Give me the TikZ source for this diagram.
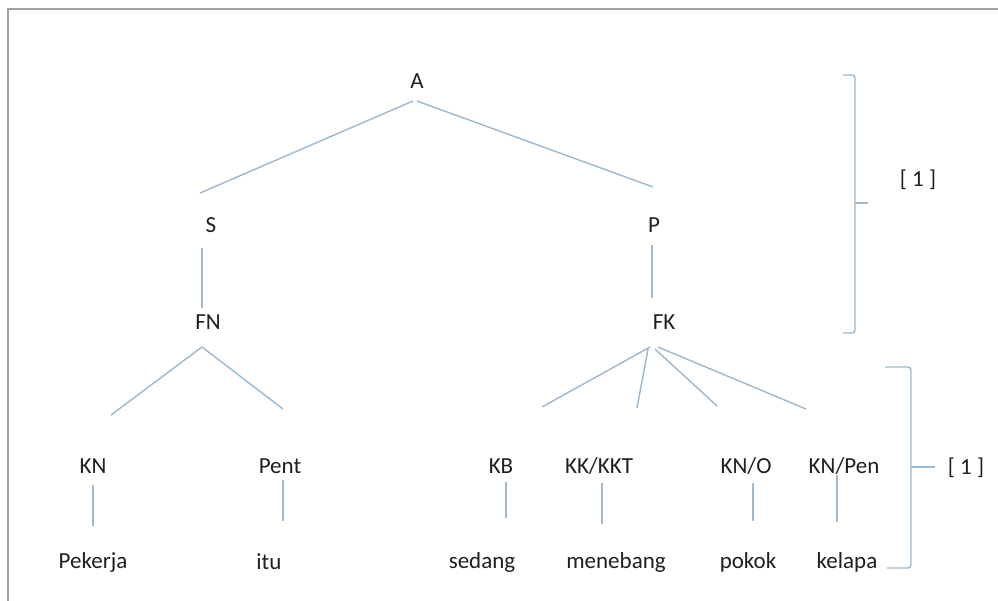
\documentclass[tikz,border=0pt]{standalone}
\usepackage{fontspec}
\setmainfont{Carlito}
\begin{document}
\begin{tikzpicture}[x=1pt,y=-1pt,
  lbl/.style={inner sep=0pt, text=black!88, font=\fontsize{23}{27}\selectfont},
  conn/.style={draw={rgb,255:red,158;green,184;blue,206}, line width=1.4pt},
  brace/.style={draw={rgb,255:red,158;green,184;blue,206}, line width=1.4pt, rounded corners=3pt},
  frame/.style={draw={rgb,255:red,160;green,160;blue,160}, line width=2.2pt}]
\useasboundingbox (0,0) rectangle (998,600);
\fill[white] (0,0) rectangle (998,600);
\draw[frame] (8,601) -- (8,9) -- (999,9);

% nodes
\node[lbl] (A) at (417,81) {A};
\node[lbl] (S) at (211,225) {S};
\node[lbl] (P) at (654,225) {P};
\node[lbl] (FN) at (208,322) {FN};
\node[lbl] (FK) at (664,322) {FK};
\node[lbl] (KN) at (93,466) {KN};
\node[lbl] (Pent) at (280,466) {Pent};
\node[lbl] (KB) at (501,466) {KB};
\node[lbl] (KK) at (599,466) {KK/KKT};
\node[lbl] (KNO) at (746,466) {KN/O};
\node[lbl] (KNP) at (844,466) {KN/Pen};
\node[lbl] (w1) at (93,562) {Pekerja};
\node[lbl] (w2) at (269,562) {itu};
\node[lbl] (w3) at (482,562) {sedang};
\node[lbl] (w4) at (616,562) {menebang};
\node[lbl] (w5) at (748,562) {pokok};
\node[lbl] (w6) at (847,562) {kelapa};
\node[lbl] (L1) at (918,180) {[ 1 ]};
\node[lbl] (L2) at (966,468) {[ 1 ]};

% connector end points
\coordinate (aL) at (413,101);
\coordinate (aR) at (417,101);
\coordinate (sT) at (200,193);
\coordinate (pT) at (653,187);
\coordinate (sB) at (202,248);
\coordinate (fnT) at (202,308);
\coordinate (pB) at (652,245);
\coordinate (fkT) at (652,298);
\coordinate (fnB) at (202,347);
\coordinate (knT) at (111,415);
\coordinate (pentT) at (283,409);
\coordinate (fkB1) at (650,347);
\coordinate (fkB2) at (648,349);
\coordinate (fkB3) at (655,349);
\coordinate (fkB4) at (658,347);
\coordinate (kbT) at (542,407);
\coordinate (kkT) at (637,408);
\coordinate (knoT) at (717,406);
\coordinate (knpT) at (806,409);

\draw[conn] (aL) -- (sT);
\draw[conn] (aR) -- (pT);
\draw[conn] (sB) -- (fnT);
\draw[conn] (pB) -- (fkT);
\draw[conn] (fnB) -- (knT);
\draw[conn] (fnB) -- (pentT);
\draw[conn] (fkB1) -- (kbT);
\draw[conn] (fkB2) -- (kkT);
\draw[conn] (fkB3) -- (knoT);
\draw[conn] (fkB4) -- (knpT);

\draw[conn] (KN.south |- 0,485) -- (KN.south |- 0,526);
\draw[conn] (283,480) -- (283,521);
\draw[conn] (506,482) -- (506,518);
\draw[conn] (602,483) -- (602,524);
\draw[conn] (753,483) -- (753,521);
\draw[conn] (837,475) -- (837,522);

% braces
\draw[brace] (843,75) -- (855,75) -- (855,203);
\draw[brace] (855,203) -- (855,333) -- (843,333);
\draw[conn] (855,203) -- (868,203);
\draw[brace] (885,367) -- (911,367) -- (911,467);
\draw[brace] (911,467) -- (911,568) -- (887,568);
\draw[conn] (911,467) -- (935,467);
\end{tikzpicture}
\end{document}
